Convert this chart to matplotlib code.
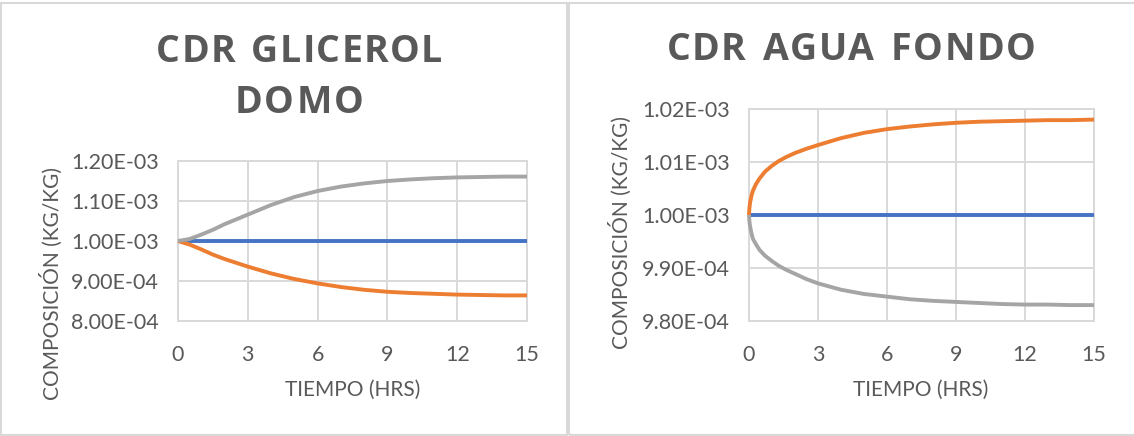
import matplotlib.pyplot as plt
from matplotlib.patches import Rectangle
from matplotlib.ticker import FuncFormatter

# left chart: CDR GLICEROL DOMO
t_glic = [0, 0.5, 1, 1.5, 2, 3, 4, 5, 6, 7, 8, 9, 10, 11, 12, 13, 14, 15]
glic_blue = [1.000e-3] * len(t_glic)
glic_orange = [1.000e-3, 0.991e-3, 0.979e-3, 0.966e-3, 0.955e-3, 0.936e-3, 0.919e-3, 0.905e-3,
               0.894e-3, 0.885e-3, 0.878e-3, 0.873e-3, 0.870e-3, 0.868e-3, 0.866e-3, 0.865e-3,
               0.864e-3, 0.864e-3]
glic_gray = [1.000e-3, 1.005e-3, 1.016e-3, 1.028e-3, 1.042e-3, 1.066e-3, 1.090e-3, 1.110e-3,
             1.125e-3, 1.136e-3, 1.144e-3, 1.150e-3, 1.154e-3, 1.157e-3, 1.159e-3, 1.160e-3,
             1.161e-3, 1.161e-3]

# right chart: CDR AGUA FONDO
t_agua = [0, 0.02, 0.05, 0.1, 0.17, 0.3, 0.46, 0.7, 1, 1.3, 1.6, 2, 2.5, 3, 4, 5, 6, 7, 8, 9,
          10, 11, 12, 13, 14, 15]
agua_blue = [1.000e-3] * len(t_agua)
agua_orange = [1.0000e-3, 1.0014e-3, 1.0024e-3, 1.0035e-3, 1.0046e-3, 1.0058e-3, 1.0069e-3,
               1.0082e-3, 1.0093e-3, 1.0102e-3, 1.0109e-3, 1.0117e-3, 1.0125e-3, 1.0132e-3,
               1.0145e-3, 1.0155e-3, 1.0162e-3, 1.0167e-3, 1.0171e-3, 1.0174e-3, 1.0176e-3,
               1.0177e-3, 1.0178e-3, 1.0179e-3, 1.0179e-3, 1.0180e-3]
agua_gray = [1.0000e-3, 0.9987e-3, 0.9978e-3, 0.9967e-3, 0.9955e-3, 0.9945e-3, 0.9934e-3,
             0.9923e-3, 0.9913e-3, 0.9904e-3, 0.9897e-3, 0.9889e-3, 0.9879e-3, 0.9871e-3,
             0.9859e-3, 0.9851e-3, 0.9846e-3, 0.9841e-3, 0.9838e-3, 0.9836e-3, 0.9834e-3,
             0.9832e-3, 0.9831e-3, 0.9831e-3, 0.9830e-3, 0.9830e-3]

x_ticks = [0, 3, 6, 9, 12, 15]
glic_yticks = [0.8e-3, 0.9e-3, 1.0e-3, 1.1e-3, 1.2e-3]
agua_yticks = [0.98e-3, 0.99e-3, 1.00e-3, 1.01e-3, 1.02e-3]

BLUE = '#4472C4'
ORANGE = '#ED7D31'
GRAY = '#A5A5A5'
TXT = '#595959'
GRID = '#D9D9D9'
FONT = 'Lato'

W, H = 1134, 436
fig = plt.figure(figsize=(W / 100, H / 100), dpi=100)
renderer = fig.canvas.get_renderer()


def frac(x0, y0, x1, y1):
    # pixel box -> figure fraction [left, bottom, width, height]
    return [x0 / W, 1 - y1 / H, (x1 - x0) / W, (y1 - y0) / H]


def spaced_text(s, xc, yc, width, **kw):
    # Excel-style letter-spaced title, stretched to the given pixel width
    widths = []
    for ch in s:
        t = fig.text(0, 0, ch if ch != ' ' else 'I', **kw)
        w = t.get_window_extent(renderer).width
        t.remove()
        widths.append(w * 1.1 if ch == ' ' else w)
    gap = (width - sum(widths)) / (len(s) - 1)
    x = xc - width / 2
    for ch, w in zip(s, widths):
        if ch != ' ':
            fig.text((x + w / 2) / W, 1 - yc / H, ch, ha='center', va='center', **kw)
        x += w + gap


# panel borders
for x0, x1 in [(1, 567), (569, 1136)]:
    fig.patches.append(Rectangle((x0 / W, 1 - 435 / H), (x1 - x0) / W, 432 / H,
                                 transform=fig.transFigure, fill=False,
                                 edgecolor=GRID, linewidth=1.5))


def setup(ax, t, blue, orange, gray, yticks):
    ax.plot(t, blue, color=BLUE, lw=2.8, clip_on=False, zorder=3, solid_capstyle='butt')
    ax.plot(t, orange, color=ORANGE, lw=2.8, clip_on=False, zorder=3, solid_capstyle='butt')
    ax.plot(t, gray, color=GRAY, lw=2.8, clip_on=False, zorder=3, solid_capstyle='butt')
    ax.set_xlim(0, 15)
    ax.set_ylim(yticks[0], yticks[-1])
    ax.set_xticks(x_ticks)
    ax.set_yticks(yticks)
    ax.yaxis.set_major_formatter(FuncFormatter(lambda v, p: '%.2E' % v))
    ax.grid(True, color=GRID, lw=1.4)
    for s in ax.spines.values():
        s.set_color(GRID)
        s.set_linewidth(1.4)
    ax.tick_params(length=0, labelsize=15.5, colors=TXT)
    ax.tick_params(axis='x', pad=17)
    ax.tick_params(axis='y', pad=14)
    for lab in ax.get_xticklabels() + ax.get_yticklabels():
        lab.set_fontfamily(FONT)
    ax.set_axisbelow(True)


ax1 = fig.add_axes(frac(178, 161, 527, 321))
setup(ax1, t_glic, glic_blue, glic_orange, glic_gray, glic_yticks)
ax2 = fig.add_axes(frac(749, 109, 1094, 321))
setup(ax2, t_agua, agua_blue, agua_orange, agua_gray, agua_yticks)

# titles
tkw = dict(color=TXT, fontsize=27, fontweight='bold', family='Open Sans')
spaced_text('CDR GLICEROL', 299, 52, 286, **tkw)
spaced_text('DOMO', 299, 103, 129, **tkw)
spaced_text('CDR AGUA FONDO', 851, 50, 369, **tkw)

# axis labels
lkw = dict(ha='center', va='center', color=TXT, fontsize=15, family=FONT)
fig.text(353 / W, 1 - 390 / H, 'TIEMPO (HRS)', **lkw)
fig.text(921 / W, 1 - 390 / H, 'TIEMPO (HRS)', **lkw)
fig.text(51 / W, 1 - 283 / H, 'COMPOSICIÓN (KG/KG)', rotation=90, **lkw)
fig.text(620 / W, 1 - 232 / H, 'COMPOSICIÓN (KG/KG)', rotation=90, **lkw)

plt.savefig('out.png', dpi=100)
